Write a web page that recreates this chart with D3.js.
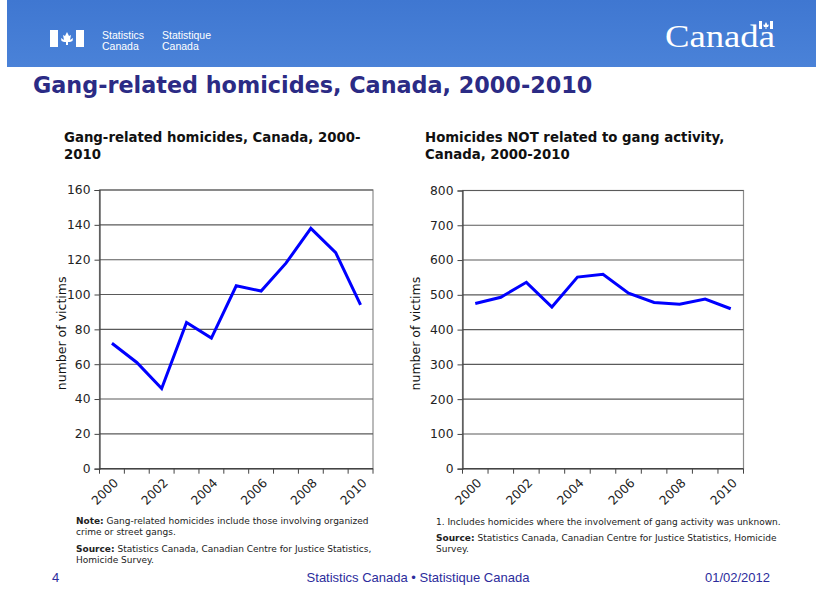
<!DOCTYPE html>
<html>
<head>
<meta charset="utf-8">
<script src="https://cdn.jsdelivr.net/npm/d3@7"></script>
<style>
  html, body { margin: 0; padding: 0; background: #fff; }
  svg { display: block; }
</style>
</head>
<body>
<svg id="chart" width="821" height="589"></svg>
<script>
// ---- data ----
const years = ["2000","2001","2002","2003","2004","2005","2006","2007","2008","2009","2010"];
const gangValues = [72, 61, 46, 84, 75, 105, 102, 118, 138, 124, 94];
const nonGangValues = [475, 493, 536, 465, 551, 559, 505, 478, 473, 488, 460];
const gangTicks = [0, 20, 40, 60, 80, 100, 120, 140, 160];
const nonGangTicks = [0, 100, 200, 300, 400, 500, 600, 700, 800];
const labelYears = ["2000","2002","2004","2006","2008","2010"];

const svg = d3.select("#chart");
const font = "DejaVu Sans, Verdana, sans-serif";

// ---- header band ----
const defs = svg.append("defs");
const grad = defs.append("linearGradient").attr("id","hdr").attr("x1",0).attr("y1",0).attr("x2",0).attr("y2",1);
grad.append("stop").attr("offset","0%").attr("stop-color","#3f77d1");
grad.append("stop").attr("offset","100%").attr("stop-color","#4a82d8");
svg.append("rect").attr("x",7).attr("y",0).attr("width",809).attr("height",67).attr("fill","url(#hdr)");

// FIP flag symbol
const flag = svg.append("g").attr("transform","translate(50,30)");
flag.append("rect").attr("x",0).attr("y",0).attr("width",8).attr("height",17).attr("fill","#fff");
flag.append("rect").attr("x",26).attr("y",0).attr("width",8).attr("height",17).attr("fill","#fff");
flag.append("path").attr("d","M17,2 L19,6 L21,5 L20,10 L23,8 L22.5,11 L20,12 L18,12 L18,15 L16,15 L16,12 L14,12 L11.5,11 L11,8 L14,10 L13,5 L15,6 Z").attr("fill","#fff");

const hdrText = svg.append("g").attr("font-family","Liberation Sans, Arial, sans-serif").attr("font-size",10.5).attr("fill","#fff");
hdrText.append("text").attr("x",102).attr("y",38.5).text("Statistics");
hdrText.append("text").attr("x",102).attr("y",49.5).text("Canada");
hdrText.append("text").attr("x",162).attr("y",38.5).text("Statistique");
hdrText.append("text").attr("x",162).attr("y",49.5).text("Canada");

svg.append("text").attr("x",665).attr("y",47).attr("font-family","Liberation Serif, Times New Roman, serif")
  .attr("font-size",31).attr("fill","#fff").attr("textLength",110).attr("lengthAdjust","spacingAndGlyphs").text("Canada");
// small flag above last letter
const sf = svg.append("g").attr("transform","translate(759,21)");
sf.append("rect").attr("x",0).attr("y",0).attr("width",3).attr("height",8).attr("fill","#fff");
sf.append("rect").attr("x",11).attr("y",0).attr("width",3).attr("height",8).attr("fill","#fff");
sf.append("path").attr("d","M7,1 L8.5,4 L10,3.5 L9,6 L7.5,6 L7.5,8 L6.5,8 L6.5,6 L5,6 L4,3.5 L5.5,4 Z").attr("fill","#fff");

// ---- main title ----
svg.append("text").attr("x",33).attr("y",93).attr("font-family",font).attr("font-weight","bold")
  .attr("font-size",22.3).attr("fill","#2b2b85").text("Gang-related homicides, Canada, 2000-2010");

// ---- chart builder ----
function drawChart(opts) {
  const g = svg.append("g");
  const x = d3.scaleBand().domain(years).range([opts.left, opts.right]);
  const y = d3.scaleLinear().domain([opts.ticks[0], opts.ticks[opts.ticks.length-1]]).range([opts.bottom, opts.top]);

  // subtitle
  const st = g.append("text").attr("font-family",font).attr("font-weight","bold").attr("font-size",13.3).attr("fill","#111");
  opts.title.forEach((t,i) => st.append("tspan").attr("x",opts.titleX).attr("y",142 + i*17).text(t));

  // plot frame
  g.append("rect").attr("x",opts.left).attr("y",opts.top).attr("width",opts.right-opts.left).attr("height",opts.bottom-opts.top)
    .attr("fill","none").attr("stroke","#8c8c8c").attr("stroke-width",1.2);

  // gridlines
  g.append("g").selectAll("line").data(opts.ticks.slice(1)).join("line")
    .attr("x1",opts.left).attr("x2",opts.right).attr("y1",d=>y(d)).attr("y2",d=>y(d))
    .attr("stroke","#5a5a5a").attr("stroke-width",1.1);

  // y axis
  const yAxis = d3.axisLeft(y).tickValues(opts.ticks).tickSize(5).tickPadding(4);
  const ya = g.append("g").attr("transform",`translate(${opts.left},0)`).call(yAxis);
  ya.select(".domain").attr("stroke","#444").attr("stroke-width",1.2);
  ya.selectAll(".tick line").attr("stroke","#444");
  ya.selectAll(".tick text").attr("font-family",font).attr("font-size",12.3).attr("fill","#222");

  // x axis: ticks at category boundaries
  const xa = g.append("g").attr("transform",`translate(0,${opts.bottom})`);
  xa.append("line").attr("x1",opts.left).attr("x2",opts.right).attr("stroke","#444").attr("stroke-width",1.4);
  const bounds = years.map(d => x(d)).concat([opts.right]);
  xa.selectAll("line.tk").data(bounds).join("line").attr("class","tk")
    .attr("x1",d=>d).attr("x2",d=>d).attr("y1",0).attr("y2",5).attr("stroke","#444");
  xa.selectAll("text").data(labelYears).join("text")
    .attr("font-family",font).attr("font-size",12.3).attr("fill","#222").attr("text-anchor","end")
    .attr("transform",d=>`translate(${x(d)+x.bandwidth()/2+7},${15}) rotate(-45)`)
    .text(d=>d);

  // y label
  g.append("text").attr("font-family",font).attr("font-size",12.5).attr("fill","#111").attr("text-anchor","middle")
    .attr("transform",`translate(${opts.labelX},${(opts.top+opts.bottom)/2 + 4}) rotate(-90)`).text("number of victims");

  // line
  const line = d3.line().x((d,i)=>x(years[i])+x.bandwidth()/2).y(d=>y(d));
  g.append("path").datum(opts.values).attr("d",line).attr("fill","none").attr("stroke","#0000ff")
    .attr("stroke-width",3).attr("stroke-linejoin","miter");
}

drawChart({left:99.5, right:373, top:190, bottom:468.7, ticks:gangTicks, values:gangValues,
  title:["Gang-related homicides, Canada, 2000-","2010"], titleX:64, labelX:66});
drawChart({left:462.5, right:743.5, top:190.5, bottom:468.7, ticks:nonGangTicks, values:nonGangValues,
  title:["Homicides NOT related to gang activity,","Canada, 2000-2010"], titleX:425, labelX:420});

// ---- notes ----
const notes = svg.append("g").attr("font-family",font).attr("font-size",9).attr("fill","#222");
function noteLine(xp, yp, bold, rest) {
  const t = notes.append("text").attr("x",xp).attr("y",yp);
  if (bold) t.append("tspan").attr("font-weight","bold").text(bold);
  t.append("tspan").text(rest);
}
noteLine(76, 524, "Note:", " Gang-related homicides include those involving organized");
noteLine(76, 535, null, "crime or street gangs.");
noteLine(76, 552, "Source:", " Statistics Canada, Canadian Centre for Justice Statistics,");
noteLine(76, 563, null, "Homicide Survey.");
noteLine(436, 525, null, "1. Includes homicides where the involvement of gang activity was unknown.");
noteLine(436, 541, "Source:", " Statistics Canada, Canadian Centre for Justice Statistics, Homicide");
noteLine(436, 552, null, "Survey.");

// ---- footer ----
const foot = svg.append("g").attr("font-family","Liberation Sans, Arial, sans-serif").attr("font-size",13).attr("fill","#2c2c9c");
foot.append("text").attr("x",52).attr("y",582).text("4");
foot.append("text").attr("x",418).attr("y",582).attr("text-anchor","middle").text("Statistics Canada \u2022 Statistique Canada");
foot.append("text").attr("x",770).attr("y",582).attr("text-anchor","end").text("01/02/2012");
</script>
</body>
</html>
